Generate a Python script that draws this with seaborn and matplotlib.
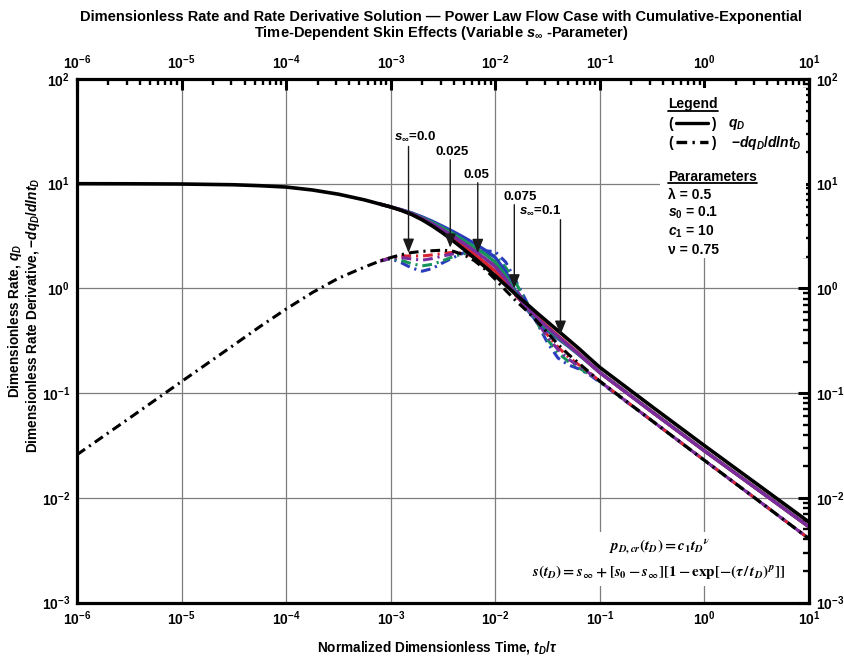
import matplotlib
matplotlib.use("Agg")
import numpy as np
import pandas as pd
import matplotlib.pyplot as plt
from matplotlib.ticker import FixedLocator, FuncFormatter, NullFormatter
from matplotlib.patches import Rectangle
import seaborn as sns

# ---------------------------------------------------------------------------
# Normalized dimensionless time, t_D / tau
# ---------------------------------------------------------------------------
t_full = [1e-6, 3.16e-6, 1e-5, 3.16e-5, 5.62e-5, 1e-4, 1.78e-4, 3.16e-4, 5.62e-4, 7.94e-4,
          1.0e-3, 1.26e-3, 1.58e-3, 2.0e-3, 2.51e-3, 3.16e-3, 3.98e-3, 5.01e-3, 6.31e-3, 7.94e-3,
          1.0e-2, 1.26e-2, 1.58e-2, 2.0e-2, 2.51e-2, 3.16e-2, 3.98e-2, 5.01e-2, 6.31e-2, 7.94e-2,
          0.1, 0.316, 1.0, 3.16, 10.0]
t_var = t_full[9:]   # the s_inf cases separate from the base case after ~1e-3

# base case (black): rate and rate derivative
qD_base = [10.0, 9.98, 9.93, 9.77, 9.57, 9.29, 8.71, 7.94, 7.00, 6.38,
           6.00, 5.56, 5.09, 4.52, 3.94, 3.37, 2.83, 2.36, 1.95, 1.61,
           1.32, 1.07, 0.871, 0.711, 0.582, 0.479, 0.394, 0.324, 0.266, 0.216,
           0.176, 0.0741, 0.0315, 0.0136, 0.00586]
dqD_base = [0.0258, 0.0575, 0.129, 0.288, 0.432, 0.635, 0.912, 1.25, 1.60, 1.83,
            1.97, 2.10, 2.20, 2.26, 2.29, 2.32, 2.26, 2.09, 1.84, 1.53,
            1.22, 0.955, 0.759, 0.610, 0.484, 0.376, 0.292, 0.234, 0.193, 0.158,
            0.130, 0.0543, 0.0228, 0.00966, 0.00407]

# variable s_inf cases: rate
qD_blue = [6.38, 6.00, 5.65, 5.27, 4.82, 4.37, 3.91, 3.48, 3.07, 2.69, 2.33, 1.97, 1.45, 0.912,
           0.634, 0.479, 0.394, 0.331, 0.279, 0.232, 0.191, 0.157, 0.0661, 0.0281, 0.0122, 0.00528]
qD_green = [6.38, 6.00, 5.62, 5.22, 4.74, 4.26, 3.77, 3.31, 2.87, 2.48, 2.13, 1.78, 1.32, 0.891,
            0.649, 0.501, 0.407, 0.339, 0.282, 0.234, 0.192, 0.157, 0.0661, 0.0281, 0.0122, 0.00528]
qD_purple = [6.38, 6.00, 5.61, 5.19, 4.67, 4.14, 3.62, 3.14, 2.69, 2.29, 1.94, 1.61, 1.23, 0.871,
             0.656, 0.519, 0.422, 0.347, 0.286, 0.236, 0.193, 0.157, 0.0661, 0.0281, 0.0122, 0.00528]
qD_red = [6.38, 6.00, 5.58, 5.14, 4.59, 4.04, 3.49, 2.98, 2.52, 2.11, 1.77, 1.46, 1.15, 0.861,
          0.664, 0.531, 0.432, 0.353, 0.290, 0.238, 0.193, 0.157, 0.0661, 0.0281, 0.0122, 0.00528]

# variable s_inf cases: rate derivative
dqD_blue = [1.83, 1.92, 1.76, 1.57, 1.46, 1.55, 1.76, 1.97, 2.19, 2.26, 2.29, 2.24, 1.78, 1.17,
            0.741, 0.468, 0.302, 0.216, 0.186, 0.170, 0.150, 0.127, 0.0543, 0.0228, 0.00966, 0.00407]
dqD_green = [1.83, 1.94, 1.86, 1.72, 1.64, 1.70, 1.84, 2.02, 2.14, 2.19, 2.16, 2.04, 1.58, 1.12,
             0.724, 0.468, 0.324, 0.243, 0.200, 0.174, 0.151, 0.129, 0.0543, 0.0228, 0.00966, 0.00407]
dqD_purple = [1.83, 1.95, 1.97, 1.91, 1.86, 1.93, 2.04, 2.14, 2.16, 2.09, 1.91, 1.66, 1.32, 0.977,
              0.692, 0.479, 0.343, 0.260, 0.211, 0.180, 0.155, 0.129, 0.0543, 0.0228, 0.00966, 0.00407]
dqD_red = [1.83, 1.96, 2.04, 2.04, 2.04, 2.09, 2.16, 2.21, 2.16, 2.00, 1.72, 1.41, 1.12, 0.851,
           0.653, 0.484, 0.359, 0.275, 0.221, 0.186, 0.157, 0.130, 0.0543, 0.0228, 0.00966, 0.00407]

# s_inf call-outs: label text, label position, arrow x, arrow start, arrow tip
sinf_labels = [r"$s_{\infty}$=0.0", "0.025", "0.05", "0.075", r"$s_{\infty}$=0.1"]
label_t = [1.69e-3, 3.90e-3, 6.61e-3, 1.74e-2, 2.70e-2]
label_v = [28.1, 20.2, 12.2, 7.52, 5.56]
arrow_t = [1.48e-3, 3.71e-3, 6.8e-3, 1.52e-2, 4.2e-2]
arrow_top = [22.7, 16.9, 10.2, 6.3, 4.53]
arrow_tip = [2.19, 2.45, 2.18, 1.0, 0.361]

param_lines = ["\u03bb = 0.5", r"$s_0$ = 0.1", r"$c_1$ = 10", "\u03bd = 0.75"]
legend_labels = [r"$q_D$", r"$-dq_D/dlnt_D$"]

# ---------------------------------------------------------------------------
sns.set_theme(style="white", context="notebook")
plt.rcParams.update({
    "font.family": ["Liberation Sans", "DejaVu Sans"],
    "font.weight": "bold",
    "mathtext.fontset": "custom",
    "mathtext.rm": "Liberation Sans:bold",
    "mathtext.it": "Liberation Sans:italic:bold",
    "mathtext.bf": "Liberation Sans:bold",
    "mathtext.sf": "Liberation Sans:bold",
    "axes.edgecolor": "black",
    "xtick.color": "black",
    "ytick.color": "black",
    "text.color": "black",
    "axes.labelcolor": "black",
})

W, H = 844, 661
fig = plt.figure(figsize=(W / 100, H / 100), dpi=100)
ax = fig.add_axes([77 / W, 58.5 / H, 732 / W, 523.5 / H])
ax.set_xscale("log")
ax.set_yscale("log")

DASHDOT = (0, (3.2, 1.6, 0.7, 1.6))
colors = {"blue": "#2a3cbe", "green": "#16925a", "purple": "#7a2c9e", "red": "#d9242f"}

frames = []
for name, q, d in [("blue", qD_blue, dqD_blue), ("green", qD_green, dqD_green),
                   ("red", qD_red, dqD_red), ("purple", qD_purple, dqD_purple)]:
    frames.append(pd.DataFrame({"t": t_var, "v": q, "case": name, "kind": "q"}))
    frames.append(pd.DataFrame({"t": t_var, "v": d, "case": name, "kind": "dq"}))
frames.append(pd.DataFrame({"t": t_full, "v": qD_base, "case": "black", "kind": "q"}))
frames.append(pd.DataFrame({"t": t_full, "v": dqD_base, "case": "black", "kind": "dq"}))
df = pd.concat(frames, ignore_index=True)

# derivatives first, rates on top; the base case last
order = [("blue", "dq"), ("green", "dq"), ("red", "dq"), ("purple", "dq"),
         ("blue", "q"), ("green", "q"), ("red", "q"), ("purple", "q"),
         ("black", "dq"), ("black", "q")]
for case, kind in order:
    sub = df[(df["case"] == case) & (df["kind"] == kind)]
    col = "black" if case == "black" else colors[case]
    if kind == "q":
        sns.lineplot(data=sub, x="t", y="v", ax=ax, color=col,
                     lw=2.6 if case == "black" else 2.4,
                     estimator=None, sort=False, errorbar=None, legend=False, zorder=3)
    else:
        sns.lineplot(data=sub, x="t", y="v", ax=ax, color=col, lw=2.2,
                     linestyle=DASHDOT, estimator=None, sort=False, errorbar=None,
                     legend=False, zorder=3)

ax.set_xlim(1e-6, 10)
ax.set_ylim(1e-3, 100)
ax.set_xlabel("")
ax.set_ylabel("")

# axes, ticks, grid
x_decades = [1e-6, 1e-5, 1e-4, 1e-3, 1e-2, 1e-1, 1e0, 1e1]
y_decades = [1e-3, 1e-2, 1e-1, 1e0, 1e1, 1e2]
fmt = FuncFormatter(lambda v, p: r"$10^{%d}$" % int(round(np.log10(v))))
for axis, dec in ((ax.xaxis, x_decades), (ax.yaxis, y_decades)):
    axis.set_major_locator(FixedLocator(dec))
    axis.set_minor_locator(FixedLocator([m * d for d in dec[:-1] for m in range(2, 10)]))
    axis.set_major_formatter(fmt)
    axis.set_minor_formatter(NullFormatter())
ax.tick_params(which="major", direction="in", length=8, width=2.2, top=True, right=True,
               labeltop=True, labelright=True, labelsize=10, pad=5)
ax.tick_params(which="minor", direction="in", length=4.5, width=1.7, top=True, right=True)
for s in ax.spines.values():
    s.set_linewidth(2.3)
    s.set_color("black")
    s.set_zorder(5)
ax.set_axisbelow(True)
ax.grid(True, which="major", color="#7d7d7d", lw=0.9)
ax.grid(False, which="minor")

# white panel behind legend and parameters
ax.add_patch(Rectangle((0.796, 0.658), 0.2, 0.325, transform=ax.transAxes,
                       fc="white", ec="none", zorder=1))

# s_inf call-outs
for lab, lt, lv in zip(sinf_labels, label_t, label_v):
    ax.text(lt, lv, lab, ha="center", va="center", fontsize=9.5, zorder=4,
            bbox=dict(fc="white", ec="none", pad=0.6))
for at, a0, a1 in zip(arrow_t, arrow_top, arrow_tip):
    ax.annotate("", xy=(at, a1), xytext=(at, a0), zorder=4,
                arrowprops=dict(arrowstyle="-|>,head_length=0.7,head_width=0.28",
                                mutation_scale=12, lw=1.0, color="#1a1a1a",
                                shrinkA=0, shrinkB=0))

# legend block
def underline(txt):
    fig.canvas.draw()
    bb = txt.get_window_extent().transformed(ax.transAxes.inverted())
    ax.plot([bb.x0, bb.x1], [bb.y0 + 0.001, bb.y0 + 0.001], transform=ax.transAxes,
            color="black", lw=1.3, clip_on=False, zorder=4)

x0 = 0.8074
t_leg = ax.text(x0, 0.952, "Legend", transform=ax.transAxes, ha="left", va="center",
                fontsize=10, zorder=4)
underline(t_leg)
for y, style, lab, lx in [(0.914, "-", legend_labels[0], 0.889),
                          (0.878, DASHDOT, legend_labels[1], 0.893)]:
    ax.text(x0, y, "(", transform=ax.transAxes, ha="left", va="center", fontsize=10, zorder=4)
    ax.text(0.866, y, ")", transform=ax.transAxes, ha="left", va="center", fontsize=10, zorder=4)
    ax.plot([0.818, 0.862], [y + 0.002, y + 0.002], transform=ax.transAxes, color="black",
            lw=2.4, linestyle=style, clip_on=False, zorder=4)
    ax.text(lx, y, lab, transform=ax.transAxes, ha="left", va="center", fontsize=10, zorder=4)

t_par = ax.text(x0, 0.813, "Pararameters", transform=ax.transAxes, ha="left", va="center",
                fontsize=10, zorder=4)
underline(t_par)
for y, line in zip([0.779, 0.745, 0.709, 0.673], param_lines):
    ax.text(x0, y, line, transform=ax.transAxes, ha="left", va="center", fontsize=10, zorder=4)

# model equations
ax.text(0.795, 0.083,
        r"$p_{D,cr}(t_D) = c_1 t_D{}^{\nu}$" + "\n" +
        r"$s(t_D) = s_{\infty} + [s_0 - s_{\infty}][1 - \exp[-(\tau\,/\,t_D)^{\,p}]]$",
        transform=ax.transAxes, ha="center", va="center", fontsize=10.8,
        math_fontfamily="stix", fontweight="normal", linespacing=1.6, zorder=2.5,
        bbox=dict(fc="white", ec="none", pad=3))

# titles and axis labels
fig.text(441 / W, 1 - 17.5 / H,
         "Dimensionless Rate and Rate Derivative Solution \u2014 Power Law Flow Case with Cumulative-Exponential",
         ha="center", va="center", fontsize=10.5)
fig.text(441 / W, 1 - 33.5 / H,
         r"Time-Dependent Skin Effects (Variable $s_{\infty}$ -Parameter)",
         ha="center", va="center", fontsize=10.5)
fig.text(437 / W, 1 - 648 / H, r"Normalized Dimensionless Time, $t_D/\tau$",
         ha="center", va="center", fontsize=9.8)
fig.text(15 / W, 1 - 321 / H, r"Dimensionless Rate, $q_D$", rotation=90,
         ha="center", va="center", fontsize=9.8)
fig.text(33 / W, 1 - 315 / H, r"Dimensionless Rate Derivative, $-dq_D/dlnt_D$", rotation=90,
         ha="center", va="center", fontsize=9.8)

fig.savefig("out.png", dpi=100, facecolor="white")
